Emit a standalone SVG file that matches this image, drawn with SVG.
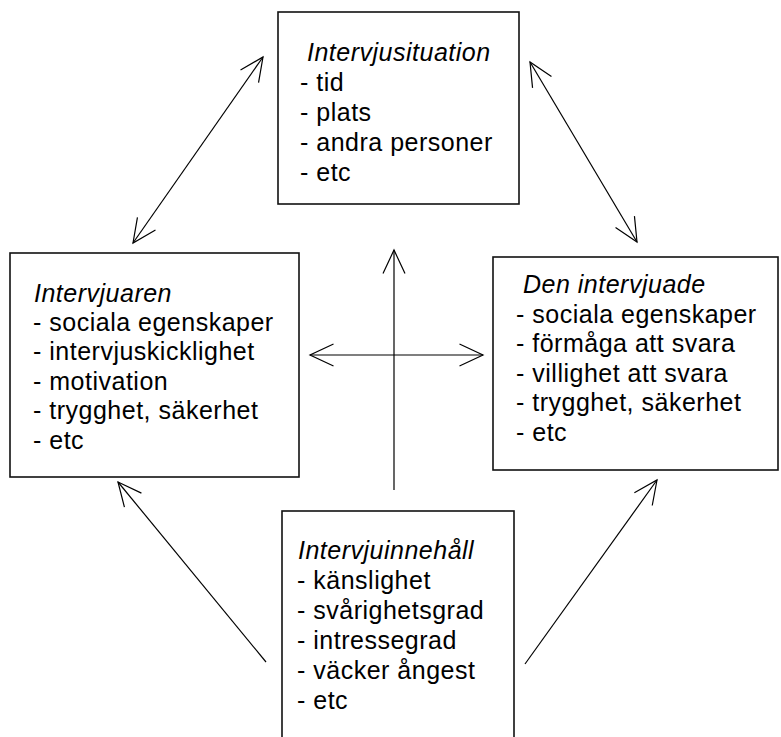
<svg xmlns="http://www.w3.org/2000/svg" width="781" height="737" viewBox="0 0 781 737">
<style>
.box{fill:#fff;stroke:#111;stroke-width:1.6}
text{font-family:"Liberation Sans",Arial,sans-serif;font-size:25px;letter-spacing:0.5px;fill:#000}
.t{font-style:italic}
.c{fill:none;stroke:#000;stroke-width:1.2}
</style>
<defs>
<marker id="ah" viewBox="-30 -15 35 30" refX="0" refY="0" markerWidth="35" markerHeight="30" markerUnits="userSpaceOnUse" orient="auto-start-reverse">
<path d="M-23.5,-11 L0,0 L-23.5,11" fill="none" stroke="#000" stroke-width="1.2"/>
</marker>
</defs>
<rect width="781" height="737" fill="#fff"/>
<g id="connectors">
<line class="c" x1="263" y1="57" x2="133" y2="243" marker-start="url(#ah)" marker-end="url(#ah)"/>
<line class="c" x1="530" y1="62" x2="637" y2="242" marker-start="url(#ah)" marker-end="url(#ah)"/>
<line class="c" x1="394" y1="490" x2="394" y2="250" marker-end="url(#ah)"/>
<line class="c" x1="310" y1="355" x2="483" y2="355" marker-start="url(#ah)" marker-end="url(#ah)"/>
<line class="c" x1="266" y1="662" x2="118" y2="482" marker-end="url(#ah)"/>
<line class="c" x1="525" y1="664" x2="657" y2="480" marker-end="url(#ah)"/>
</g>
<g id="intervjusituation">
<rect class="box" x="278" y="12" width="241" height="192"/>
<text class="t" x="307" y="61">Intervjusituation</text>
<text x="300" y="91">- tid</text>
<text x="300" y="121">- plats</text>
<text x="300" y="151">- andra personer</text>
<text x="300" y="181">- etc</text>
</g>
<g id="intervjuaren">
<rect class="box" x="10" y="253" width="289" height="224"/>
<text class="t" x="34" y="302">Intervjuaren</text>
<text x="33" y="331">- sociala egenskaper</text>
<text x="33" y="360">- intervjuskicklighet</text>
<text x="33" y="390">- motivation</text>
<text x="33" y="419">- trygghet, säkerhet</text>
<text x="33" y="449">- etc</text>
</g>
<g id="den-intervjuade">
<rect class="box" x="493" y="257" width="285" height="213"/>
<text class="t" x="523" y="293">Den intervjuade</text>
<text x="516" y="323">- sociala egenskaper</text>
<text x="516" y="352">- förmåga att svara</text>
<text x="516" y="382">- villighet att svara</text>
<text x="516" y="411">- trygghet, säkerhet</text>
<text x="516" y="441">- etc</text>
</g>
<g id="intervjuinnehall">
<rect class="box" x="282" y="511" width="232" height="240"/>
<text class="t" x="298" y="559">Intervjuinnehåll</text>
<text x="297" y="589">- känslighet</text>
<text x="297" y="619">- svårighetsgrad</text>
<text x="297" y="649">- intressegrad</text>
<text x="297" y="679">- väcker ångest</text>
<text x="297" y="709">- etc</text>
</g>
</svg>
